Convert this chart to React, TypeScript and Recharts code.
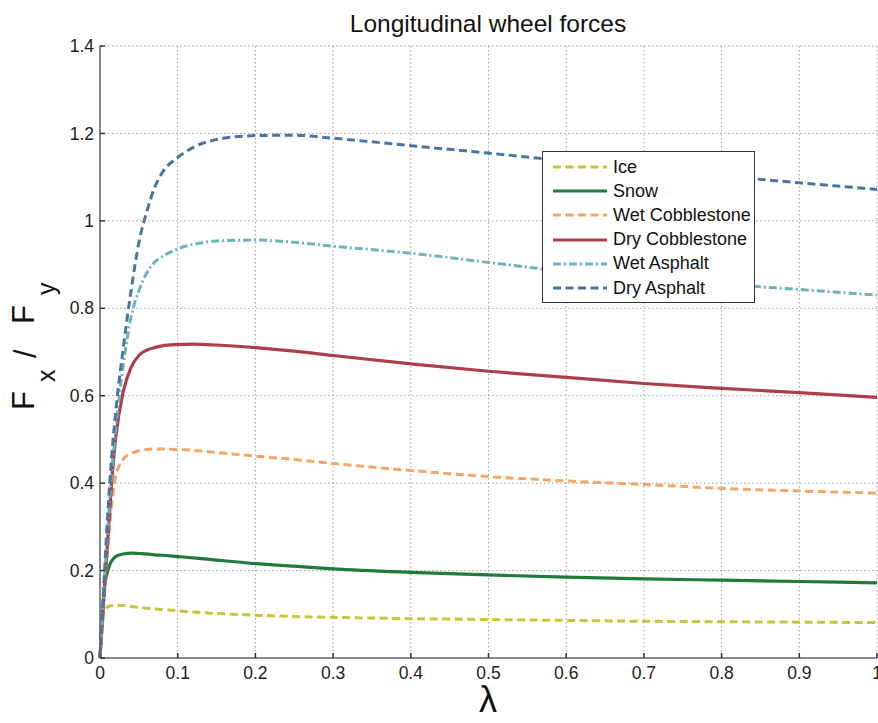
import React from 'react';
import { LineChart, Line, XAxis, YAxis, CartesianGrid, Legend } from 'recharts';

// slip ratio λ
const lambdaValues = [0, 0.005, 0.01, 0.015, 0.02, 0.03, 0.04, 0.05, 0.06, 0.07, 0.08, 0.1, 0.12, 0.15, 0.2, 0.25, 0.3, 0.4, 0.5, 0.6, 0.7, 0.8, 0.9, 1.0];

const ice = [0, 0.1, 0.117, 0.12, 0.121, 0.12, 0.118, 0.116, 0.114, 0.112, 0.111, 0.108, 0.105, 0.102, 0.098, 0.095, 0.093, 0.09, 0.088, 0.086, 0.084, 0.083, 0.082, 0.081];
const snow = [0, 0.15, 0.2, 0.222, 0.232, 0.238, 0.24, 0.239, 0.238, 0.236, 0.235, 0.232, 0.229, 0.224, 0.216, 0.21, 0.204, 0.196, 0.19, 0.185, 0.181, 0.178, 0.175, 0.172];
const wetCobblestone = [0, 0.13, 0.25, 0.35, 0.415, 0.455, 0.468, 0.474, 0.477, 0.478, 0.478, 0.477, 0.475, 0.47, 0.462, 0.454, 0.445, 0.429, 0.415, 0.405, 0.397, 0.388, 0.382, 0.377];
const dryCobblestone = [0, 0.14, 0.27, 0.4, 0.5, 0.61, 0.665, 0.692, 0.704, 0.71, 0.714, 0.717, 0.718, 0.716, 0.71, 0.702, 0.692, 0.673, 0.656, 0.642, 0.628, 0.617, 0.607, 0.596];
const wetAsphalt = [0, 0.16, 0.3, 0.42, 0.52, 0.67, 0.78, 0.84, 0.88, 0.905, 0.918, 0.936, 0.946, 0.954, 0.956, 0.951, 0.942, 0.926, 0.905, 0.884, 0.868, 0.855, 0.843, 0.83];
const dryAsphalt = [0, 0.17, 0.33, 0.46, 0.56, 0.71, 0.84, 0.95, 1.02, 1.075, 1.11, 1.145, 1.168, 1.186, 1.195, 1.196, 1.189, 1.172, 1.155, 1.137, 1.12, 1.103, 1.087, 1.072];

const xTicks = [0, 0.1, 0.2, 0.3, 0.4, 0.5, 0.6, 0.7, 0.8, 0.9, 1];
const yTicks = [0, 0.2, 0.4, 0.6, 0.8, 1, 1.2, 1.4];

const data = lambdaValues.map((l, i) => ({
  lambda: l,
  ice: ice[i],
  snow: snow[i],
  wetCobblestone: wetCobblestone[i],
  dryCobblestone: dryCobblestone[i],
  wetAsphalt: wetAsphalt[i],
  dryAsphalt: dryAsphalt[i],
}));

const series = [
  { key: 'ice', name: 'Ice', color: '#c6c738', dash: '8 4.5', width: 3 },
  { key: 'snow', name: 'Snow', color: '#1f7a3c', dash: undefined, width: 3.2 },
  { key: 'wetCobblestone', name: 'Wet Cobblestone', color: '#f3a66a', dash: '8 4.5', width: 3 },
  { key: 'dryCobblestone', name: 'Dry Cobblestone', color: '#ad3f4b', dash: undefined, width: 3.2 },
  { key: 'wetAsphalt', name: 'Wet Asphalt', color: '#6db3b8', dash: '8 3 2 3', width: 3 },
  { key: 'dryAsphalt', name: 'Dry Asphalt', color: '#4a75a3', dash: '8 4.5', width: 3 },
];

const FONT = "'Liberation Sans', Arial, Helvetica, sans-serif";
const fmt = (v: number) => String(Math.round(v * 10) / 10);

const renderLegend = () => (
  <div
    style={{
      width: 213,
      height: 152,
      border: '1.5px solid #333',
      background: '#fff',
      boxSizing: 'border-box',
      padding: '3px 0 0 9px',
      fontFamily: FONT,
      fontSize: 18,
      color: '#111',
    }}
  >
    {series.map((s) => (
      <div key={s.key} style={{ display: 'flex', alignItems: 'center', height: 24.2 }}>
        <svg width={56} height={10}>
          <line x1={1} y1={5} x2={55} y2={5} stroke={s.color} strokeWidth={s.width} strokeDasharray={s.dash} />
        </svg>
        <span style={{ marginLeft: 5, whiteSpace: 'nowrap' }}>{s.name}</span>
      </div>
    ))}
  </div>
);

export default function App() {
  return (
    <div style={{ position: 'absolute', left: 0, top: 0, width: 878, height: 723, background: '#fff' }}>
      <LineChart width={878} height={723} data={data} margin={{ top: 46, right: 1, bottom: 0, left: 40 }}>
        <CartesianGrid stroke="#9a9a9a" strokeDasharray="1.5 2.5" strokeWidth={1} />
        <XAxis
          dataKey="lambda"
          type="number"
          domain={[0, 1]}
          ticks={xTicks}
          interval={0}
          height={65}
          tickSize={-5}
          tickMargin={14}
          tickFormatter={fmt}
          stroke="#666"
          strokeWidth={1.5}
          tickLine={{ stroke: '#333' }}
          tick={{ fill: '#222', fontSize: 17.5, fontFamily: FONT }}
        />
        <XAxis
          xAxisId="top"
          orientation="top"
          type="number"
          domain={[0, 1]}
          ticks={xTicks}
          interval={0}
          height={0}
          tickSize={-5}
          tickFormatter={() => ''}
          stroke="#666"
          strokeWidth={1.5}
          tickLine={{ stroke: '#333' }}
        />
        <YAxis
          type="number"
          domain={[0, 1.4]}
          ticks={yTicks}
          interval={0}
          width={60}
          tickSize={-5}
          tickMargin={11}
          tickFormatter={fmt}
          stroke="#666"
          strokeWidth={1.5}
          tickLine={{ stroke: '#333' }}
          tick={{ fill: '#222', fontSize: 17.5, fontFamily: FONT }}
        />
        <YAxis
          yAxisId="right"
          orientation="right"
          type="number"
          domain={[0, 1.4]}
          ticks={yTicks}
          interval={0}
          width={0}
          tickSize={-5}
          tickFormatter={() => ''}
          stroke="#666"
          strokeWidth={1.5}
          tickLine={{ stroke: '#333' }}
        />
        <Legend
          layout="vertical"
          align="center"
          verticalAlign="middle"
          content={renderLegend}
          wrapperStyle={{ left: 542, top: 151, width: 213, height: 152 }}
        />
        {series.map((s) => (
          <Line
            key={s.key}
            dataKey={s.key}
            name={s.name}
            type="monotone"
            stroke={s.color}
            strokeWidth={s.width}
            strokeDasharray={s.dash}
            dot={false}
            activeDot={false}
            isAnimationActive={false}
          />
        ))}
      </LineChart>
      <svg
        width={878}
        height={723}
        style={{ position: 'absolute', left: 0, top: 0, pointerEvents: 'none' }}
      >
        <text x={488} y={32} textAnchor="middle" fontFamily={FONT} fontSize={24.5} fill="#111">
          Longitudinal wheel forces
        </text>
        <text x={488} y={712} textAnchor="middle" fontFamily={FONT} fontSize={36} fill="#111">
          λ
        </text>
        <g transform="rotate(-90)" fontFamily={FONT} fill="#111">
          <text x={-410} y={34} fontSize={31}>F</text>
          <text x={-382} y={55} fontSize={25}>x</text>
          <text x={-358} y={36} fontSize={31}>/</text>
          <text x={-324} y={34} fontSize={31}>F</text>
          <text x={-295} y={55} fontSize={25}>y</text>
        </g>
      </svg>
    </div>
  );
}
